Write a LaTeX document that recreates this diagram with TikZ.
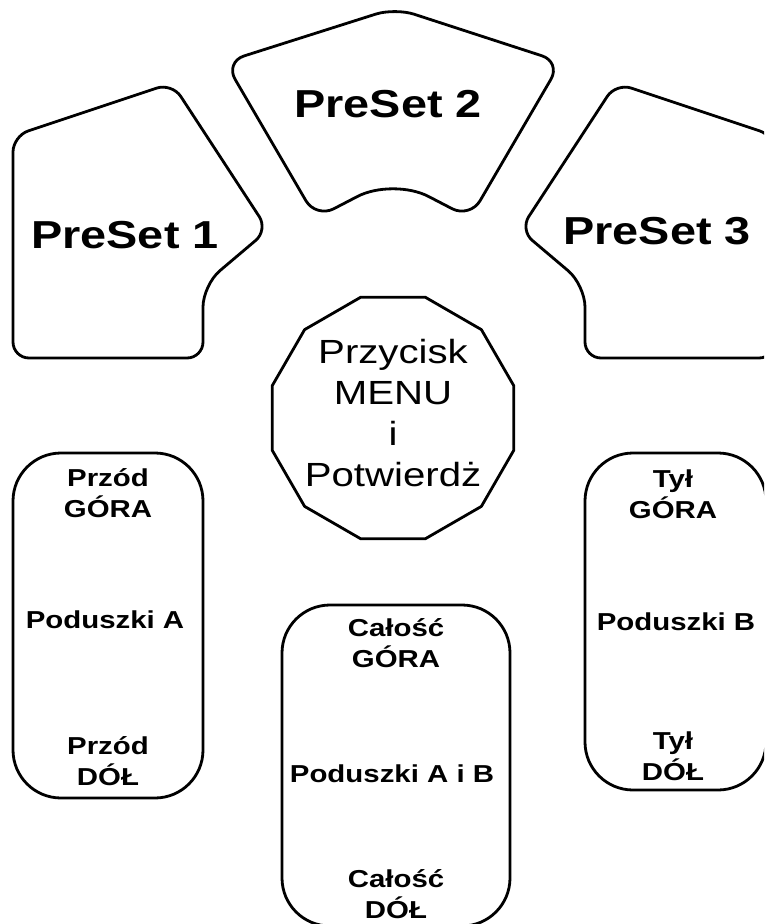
\documentclass[tikz,border=0pt]{standalone}
\usepackage{fontspec}
\newfontfamily\padfont[FakeStretch=1.2]{Liberation Sans}
\usetikzlibrary{shapes.geometric}

\begin{document}
\begin{tikzpicture}[x=1pt,y=-1pt,
  outline/.style={draw,line width=2.8pt,line join=round},
  padbox/.style={outline,rectangle,rounded corners=48pt,inner sep=0pt},
  presetlabel/.style={font=\padfont\bfseries\fontsize{39}{44}\selectfont,anchor=base},
  padlabel/.style={font=\padfont\bfseries\fontsize{24.5}{31}\selectfont,align=center,anchor=base},
  menulabel/.style={font=\padfont\fontsize{33.5}{41.3}\selectfont,align=center}]
  \useasboundingbox (0,0) rectangle (764,924);
  \clip (0,0) rectangle (764,924);

  % PreSet keys
  \draw[outline,rounded corners=16pt] (108,358) -- (13,358) -- (13,136) -- (172,83)
    -- (268,230) [rounded corners=22pt] -- (203,285) [rounded corners=16pt] -- (203,358) -- cycle;
  \draw[outline,rounded corners=20pt] (310,35) -- (395,8) -- (561,62) -- (470,218)
    [rounded corners=40pt] -- (393,178) [rounded corners=20pt] -- (316,218) -- (225,62) -- cycle;
  \draw[outline,rounded corners=16pt] (680,358) -- (775,358) -- (775,136) -- (616,83)
    -- (520,230) [rounded corners=22pt] -- (585,285) [rounded corners=16pt] -- (585,358) -- cycle;
  \node[presetlabel] (preset1) at (125,248) {PreSet 1};
  \node[presetlabel] (preset2) at (388,117) {PreSet 2};
  \node[presetlabel] (preset3) at (657,244) {PreSet 3};

  % menu button
  \node[outline,regular polygon,regular polygon sides=12,minimum size=250pt,inner sep=0pt] (menu) at (393,418) {};
  \node[menulabel] (menutext) at ([yshift=5pt]menu.center) {Przycisk\\MENU\\i\\Potwierdż};

  % cushion keys
  \node[padbox,minimum width=190pt,minimum height=345pt] (padA) at (108,625.5) {};
  \node[padbox,minimum width=228pt,minimum height=321pt] (padAB) at (396,765.5) {};
  \node[padbox,minimum width=181pt,minimum height=337pt] (padB) at (675.5,621.5) {};

  \node[padlabel] (padAup) at (108,517) {Przód\\GÓRA};
  \node[padlabel] (padAname) at (105,628) {Poduszki A};
  \node[padlabel] (padAdown) at (108,785) {Przód\\DÓŁ};
  \node[padlabel] (padABup) at (396,667) {Całość\\GÓRA};
  \node[padlabel] (padABname) at (392,782) {Poduszki A i B};
  \node[padlabel] (padABdown) at (396,918) {Całość\\DÓŁ};
  \node[padlabel] (padBup) at (673,518) {Tył\\GÓRA};
  \node[padlabel] (padBname) at (676,630) {Poduszki B};
  \node[padlabel] (padBdown) at (673,780) {Tył\\DÓŁ};
\end{tikzpicture}
\end{document}
